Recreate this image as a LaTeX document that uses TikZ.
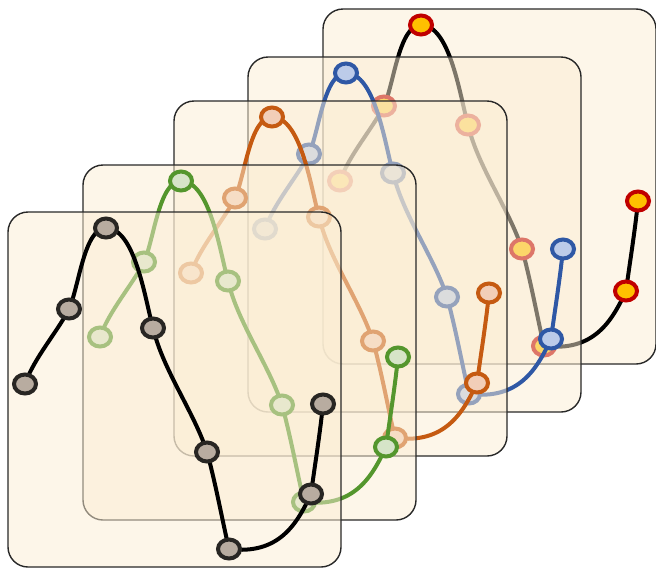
\documentclass[tikz,border=0pt]{standalone}
\usepackage{xcolor}
\usetikzlibrary{shapes.geometric}
\definecolor{panelfill}{RGB}{251,237,211}
\definecolor{panelline}{RGB}{40,40,40}
\definecolor{darkmark}{RGB}{40,38,35}
\definecolor{grayfill}{RGB}{184,172,160}
\definecolor{greenwave}{RGB}{84,150,45}
\definecolor{greenfill}{RGB}{214,228,200}
\definecolor{orangewave}{RGB}{197,90,17}
\definecolor{peachfill}{RGB}{242,206,184}
\definecolor{bluewave}{RGB}{47,88,165}
\definecolor{bluefill}{RGB}{188,203,233}
\definecolor{redmark}{RGB}{192,0,0}
\definecolor{goldfill}{RGB}{255,192,0}

\begin{document}
\begin{tikzpicture}[x=1pt, y=-1pt,
      panel/.style={draw=panelline, line width=1.4pt, rounded corners=20pt,
                    fill=panelfill, fill opacity=0.5},
      wave/.style={line width=4pt, line cap=round},
      dot/.style={ellipse, line width=4pt, minimum width=22pt,
                  minimum height=19pt, inner sep=0pt}]
    \useasboundingbox (0,0) rectangle (656,568);
    % panels from back to front
    \foreach \px/\py/\wc/\dc/\fc [count=\k] in
        {323/9/black/redmark/goldfill,
         248/57/bluewave/bluewave/bluefill,
         174/101/orangewave/orangewave/peachfill,
         83/165/greenwave/greenwave/greenfill,
         8/212/black/darkmark/grayfill} {
      \begin{scope}[shift={(\px,\py)}]
        \path[panel] (0,0) rectangle (333,355);
        \foreach \x/\y [count=\j] in {17/172, 61/97, 98/16, 145/116,
                                      199/240, 221/337, 303/282, 315/192}
          \coordinate (c\k-\j) at (\x,\y);
        \draw[wave, draw=\wc] (c\k-1)
          .. controls +(9,-26) and +(-11,22) .. (c\k-2)
          .. controls +(10,-22) and +(-22,0) .. (c\k-3)
          .. controls +(29,0) and +(-8,-29) .. (c\k-4)
          .. controls +(10,42) and +(-13,-40) .. (c\k-5)
          .. controls +(9,33) and +(-7,-30) .. (c\k-6)
          .. controls +(50,6) and +(-14,30) .. (c\k-7)
          .. controls +(4,-30) and +(-3,30) .. (c\k-8);
        \foreach \j in {1,...,8}
          \node[dot, draw=\dc, fill=\fc] (m\k-\j) at (c\k-\j) {};
      \end{scope}
    }
  \end{tikzpicture}
\end{document}
